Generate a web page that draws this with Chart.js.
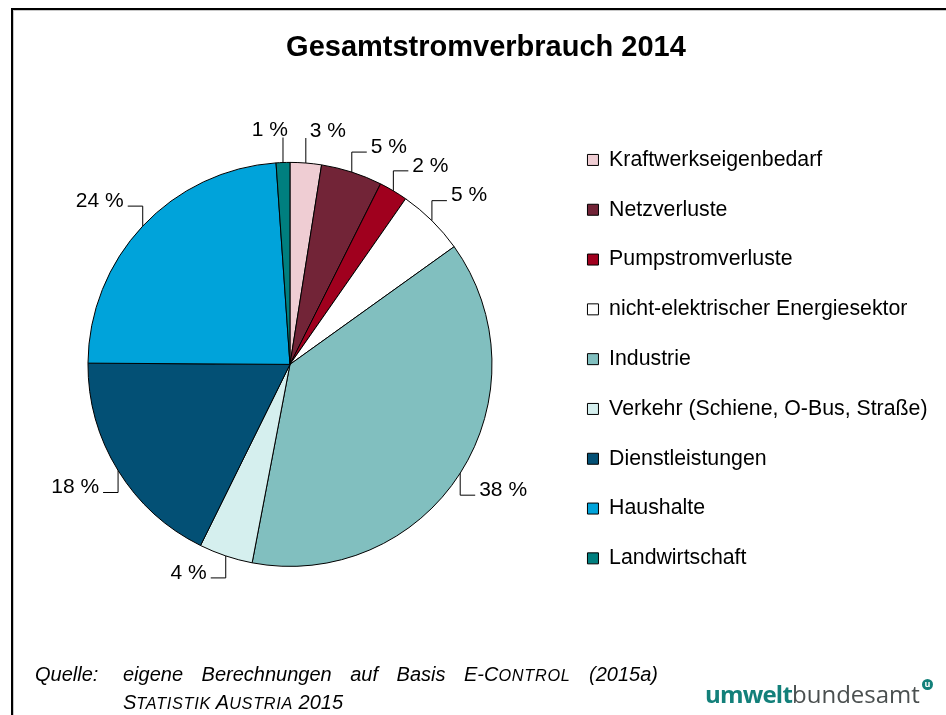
<!DOCTYPE html>
<html>
<head>
<meta charset="utf-8">
<script src="https://cdn.jsdelivr.net/npm/chart.js@4.4.1/dist/chart.umd.min.js"></script>
<style>
  body { margin: 0; background: #fff; font-family: 'Liberation Sans', Arial, sans-serif; }
  #rahmen { position: absolute; left: 11px; top: 8px; width: 960px; height: 720px;
            border-top: 2px solid #000; border-left: 2px solid #000;
            box-shadow: inset 1px 1px 0 #c8c8c8; }
  #grafik { position: absolute; left: 0; top: 0; }
  #titel { position: absolute; left: 0; top: 32px; width: 972px; text-align: center;
           font-size: 29px; line-height: 29px; font-weight: bold; color: #000; }
  .quelle { position: absolute; font-style: italic; font-size: 20px; color: #000; white-space: nowrap; }
  #q1 { left: 35px; top: 663px; }
  #q2 { left: 123px; top: 663px; width: 535px; text-align: justify; text-align-last: justify; white-space: normal; }
  #q3 { left: 123px; top: 691px; }
  .klein { text-transform: uppercase; font-size: 16.3px; letter-spacing: 0.7px; }
  #logo { position: absolute; left: 705px; top: 677px; font-family: 'Open Sans', sans-serif; font-size: 24px; color: #4a4f4f; white-space: nowrap; }
  #logo b { color: #13807a; font-weight: 700; letter-spacing: -0.8px; }
  #logo i { position: absolute; right: -13px; top: 2px; width: 11px; height: 11px; border-radius: 50%;
            background: #13807a; color: #fff; font-style: normal; font-size: 9px; line-height: 9px; text-align: center; font-weight: 700; }
</style>
</head>
<body>
<div id="rahmen"></div>
<canvas id="grafik" width="946" height="715"></canvas>
<div id="titel">Gesamtstromverbrauch 2014</div>
<div class="quelle" id="q1">Quelle:</div>
<div class="quelle" id="q2">eigene Berechnungen auf Basis E-C<span class="klein">ontrol</span> (2015a)</div>
<div class="quelle" id="q3">S<span class="klein">tatistik</span> A<span class="klein">ustria</span> 2015</div>
<div id="logo"><b>umwelt</b>bundesamt<i>u</i></div>
<script>
var kategorien = ['Kraftwerkseigenbedarf', 'Netzverluste', 'Pumpstromverluste', 'nicht-elektrischer Energiesektor',
                  'Industrie', 'Verkehr (Schiene, O-Bus, Straße)', 'Dienstleistungen', 'Haushalte', 'Landwirtschaft']
var anteile = [2.5, 4.9, 2.3, 5.4, 37.9, 4.3, 17.8, 23.8, 1.1]
var farben = ['#efcdd3', '#722437', '#a0001e', '#ffffff', '#81bfbf', '#d5efee', '#035075', '#00a3da', '#007f7f']

Chart.defaults.font.family = "'Liberation Sans', Arial, sans-serif"
Chart.defaults.color = '#000'

// prozent-beschriftung mit fuehrungslinie (erst senkrecht, dann waagrecht)
var beschriftung = {
  id: 'beschriftung',
  afterDatasetsDraw: function (chart) {
    var ctx = chart.ctx
    var meta = chart.getDatasetMeta(0)
    var total = anteile.reduce(function (a, b) { return a + b }, 0)
    ctx.save()
    ctx.font = '21px "Liberation Sans", Arial, sans-serif'
    ctx.strokeStyle = '#000'
    ctx.lineWidth = 1
    ctx.fillStyle = '#000'
    ctx.textBaseline = 'middle'
    meta.data.forEach(function (arc, i) {
      var a = (arc.startAngle + arc.endAngle) / 2
      var r = arc.outerRadius
      var ux = Math.cos(a), uy = Math.sin(a)
      var px = arc.x + r * ux, py = arc.y + r * uy
      var rechts = ux >= 0
      var txt = Math.round(anteile[i] / total * 100) + ' %'
      ctx.beginPath()
      ctx.moveTo(px, py)
      if (Math.abs(ux) < 0.2) {
        // ganz oben: nur senkrechter strich, text daneben
        var ty = py - 25
        ctx.lineTo(px, ty)
        ctx.stroke()
        ctx.textAlign = rechts ? 'left' : 'right'
        ctx.fillText(txt, px + (rechts ? 4 : 5), ty - 7)
        return
      }
      var ey = py + (uy < 0 ? -20 : 22)
      var hx = px + (rechts ? 15 : -15)
      ctx.lineTo(px, ey)
      ctx.lineTo(hx, ey)
      ctx.stroke()
      ctx.textAlign = rechts ? 'left' : 'right'
      ctx.fillText(txt, hx + (rechts ? 4 : -4), ey - 5)
    })
    ctx.restore()
  }
}

new Chart(document.getElementById('grafik').getContext('2d'), {
  type: 'pie',
  data: {
    labels: kategorien,
    datasets: [{
      data: anteile,
      backgroundColor: farben,
      borderColor: '#000',
      borderWidth: 1
    }]
  },
  options: {
    responsive: false,
    animation: false,
    radius: 202,
    layout: { padding: { left: 21, right: 8.5, top: 120.8, bottom: 107 } },
    plugins: {
      legend: {
        position: 'right',
        align: 'start',
        fullSize: false,
        labels: {
          boxWidth: 11,
          boxHeight: 11,
          padding: 28.5,
          font: { size: 21.3 },
          color: '#000'
        }
      },
      tooltip: { enabled: false }
    }
  },
  plugins: [beschriftung]
})
</script>
</body>
</html>
